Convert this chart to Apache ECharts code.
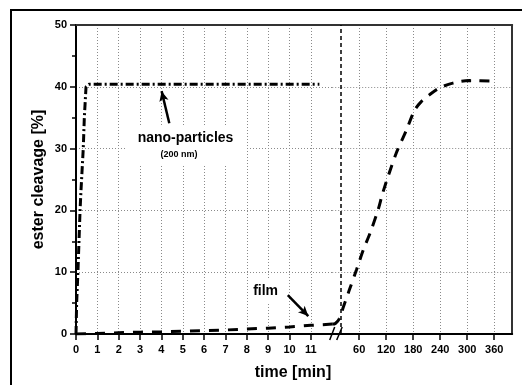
<!DOCTYPE html>
<html>
<head>
<meta charset="utf-8">
<script src="https://cdn.jsdelivr.net/npm/echarts@6/dist/echarts.min.js"></script>
<style>
  html, body { margin: 0; padding: 0; background: #fff; }
  #chart { width: 526px; height: 385px; }
</style>
</head>
<body>
<div id="chart"></div>
<script>
  // nano-particles (left part of the time axis, minutes)
  var nanoTime = [0, 0.03, 0.09, 0.19, 0.23, 0.34, 0.39, 0.47, 0.6, 11.4]
  var nanoCleavage = [0, 5, 10, 20, 23, 30, 35, 40, 40.4, 40.4]

  // film, 0-12 min
  var filmTimeShort = [0, 1, 2, 3, 4, 5, 6, 7, 8, 9, 10, 11, 12]
  var filmCleavageShort = [0, 0.1, 0.2, 0.3, 0.35, 0.45, 0.55, 0.65, 0.8, 0.95, 1.15, 1.4, 1.6]

  // film, long time range (after the axis break)
  var filmTimeLong = [0, 7, 16, 25, 38, 54, 69, 84, 102, 113, 142, 165, 183, 198, 216, 238, 268, 305, 360]
  var filmCleavageLong = [1.6, 1.7, 2.5, 4.4, 7.1, 10.4, 13.6, 16.3, 20.1, 23, 29.2, 33, 36.2, 37.6, 38.7, 39.8, 40.6, 41, 40.9]

  var shortTicks = [0, 1, 2, 3, 4, 5, 6, 7, 8, 9, 10, 11]
  var longTicks = [60, 120, 180, 240, 300, 360]
  var breakLineTime = 19

  function pairs (xs, ys) {
    return xs.map(function (x, i) { return [x, ys[i]] })
  }

  var font = 'Liberation Sans'
  var splitStyle = { color: '#8a8a8a', type: [1, 2], width: 1 }
  var labelStyle = { color: '#000', fontFamily: font, fontWeight: 'bold', fontSize: 11 }

  var myChart = echarts.init(document.getElementById('chart'))

  var option = {
    animation: false,
    backgroundColor: '#fff',
    grid: [
      { left: 76, top: 25, width: 256.2, height: 309, outerBoundsMode: 'none' },
      { left: 332.2, top: 25, width: 180, height: 309, outerBoundsMode: 'none' },
    ],
    xAxis: [
      {
        type: 'value', gridIndex: 0, min: 0, max: 12, interval: 1,
        axisLine: { onZero: false, lineStyle: { color: '#000', width: 2 } },
        axisTick: { length: 6, customValues: shortTicks, lineStyle: { color: '#000', width: 1.5 } },
        axisLabel: Object.assign({ margin: 10, customValues: shortTicks }, labelStyle),
        splitLine: { show: true, lineStyle: splitStyle },
      },
      {
        type: 'value', gridIndex: 1, min: 0, max: 400, interval: 60,
        axisLine: { onZero: false, lineStyle: { color: '#000', width: 2 } },
        axisTick: { length: 6, customValues: longTicks, lineStyle: { color: '#000', width: 1.5 } },
        axisLabel: Object.assign({ margin: 10, customValues: longTicks }, labelStyle),
        splitLine: { show: true, lineStyle: splitStyle },
      },
      {
        type: 'value', gridIndex: 0, position: 'top', min: 0, max: 12,
        axisLine: { onZero: false, lineStyle: { color: '#333', width: 2 } },
        axisTick: { show: false }, axisLabel: { show: false }, splitLine: { show: false },
      },
      {
        type: 'value', gridIndex: 1, position: 'top', min: 0, max: 400,
        axisLine: { onZero: false, lineStyle: { color: '#333', width: 2 } },
        axisTick: { show: false }, axisLabel: { show: false }, splitLine: { show: false },
      },
    ],
    yAxis: [
      {
        type: 'value', gridIndex: 0, min: 0, max: 50, interval: 10,
        name: 'ester cleavage [%]', nameLocation: 'middle', nameGap: 29, nameRotate: 90,
        nameTextStyle: { color: '#000', fontFamily: font, fontWeight: 'bold', fontSize: 16 },
        axisLine: { show: true, onZero: false, lineStyle: { color: '#000', width: 2 } },
        axisTick: { show: true, length: 6, lineStyle: { color: '#000', width: 1.5 } },
        minorTick: { show: true, splitNumber: 2, length: 4, lineStyle: { color: '#000', width: 1.5 } },
        axisLabel: Object.assign({ margin: 9 }, labelStyle),
        splitLine: { show: true, showMinLine: false, showMaxLine: false, lineStyle: splitStyle },
      },
      {
        type: 'value', gridIndex: 1, position: 'right', min: 0, max: 50, interval: 10,
        axisLine: { show: true, onZero: false, lineStyle: { color: '#333', width: 2 } },
        axisTick: { show: false }, axisLabel: { show: false },
        splitLine: { show: true, showMinLine: false, showMaxLine: false, lineStyle: splitStyle },
      },
    ],
    series: [
      {
        name: 'nano-particles', type: 'line', xAxisIndex: 0, yAxisIndex: 0,
        data: pairs(nanoTime, nanoCleavage),
        showSymbol: false, symbol: 'none',
        lineStyle: { color: '#000', width: 3, type: [8, 3, 2, 3] },
        markLine: {
          silent: true, symbol: ['none', 'arrow'], symbolSize: [7, 10],
          label: { show: false },
          lineStyle: { color: '#000', width: 2.5, type: 'solid' },
          data: [
            [{ coord: [4.37, 34.1] }, { coord: [4.01, 39.3] }],
            [{ coord: [9.92, 6.3] }, { coord: [10.88, 2.9] }],
          ],
        },
        markPoint: {
          silent: true, symbol: 'rect', symbolSize: 1,
          itemStyle: { color: 'rgba(0,0,0,0)' },
          label: { show: true, position: 'inside', color: '#000', fontFamily: font, fontWeight: 'bold' },
          data: [
            { coord: [5.13, 31.7], value: 'nano-particles',
              label: { formatter: 'nano-particles', fontSize: 14, backgroundColor: '#fff', padding: [6, 12] } },
            { coord: [4.82, 29.0], value: '(200 nm)',
              label: { formatter: '(200 nm)', fontSize: 9, backgroundColor: '#fff', padding: [4, 30, 6, 30] } },
            { coord: [8.88, 6.96], value: 'film',
              label: { formatter: 'film', fontSize: 14, backgroundColor: '#fff', padding: [5, 5] } },
          ],
        },
      },
      {
        name: 'film', type: 'line', xAxisIndex: 0, yAxisIndex: 0,
        data: pairs(filmTimeShort, filmCleavageShort),
        showSymbol: false, symbol: 'none',
        lineStyle: { color: '#000', width: 3, type: [10, 9] },
      },
      {
        name: 'film (long)', type: 'line', xAxisIndex: 1, yAxisIndex: 1,
        data: pairs(filmTimeLong, filmCleavageLong),
        showSymbol: false, symbol: 'none', smooth: 0.3,
        lineStyle: { color: '#000', width: 3, type: [10, 8] },
        markLine: {
          silent: true, symbol: ['none', 'none'],
          label: { show: false },
          lineStyle: { color: '#000', width: 1.5, type: [4, 3] },
          data: [{ xAxis: breakLineTime }],
        },
      },
    ],
  }
  myChart.setOption(option)

  // axis break marks and frame
  var seam = myChart.convertToPixel({ xAxisIndex: 0, yAxisIndex: 0 }, [12, 0])
  var sx = seam[0], sy = seam[1]
  var breakStyle = { stroke: '#000', lineWidth: 1.5 }
  myChart.setOption({
    graphic: [
      { type: 'polyline', silent: true, shape: { points: [[11, 385], [11, 10], [522, 10]] }, style: { stroke: '#000', lineWidth: 2, fill: null } },
      { type: 'line', silent: true, z: 100, shape: { x1: sx - 2.5, y1: sy + 6, x2: sx + 2.5, y2: sy - 7 }, style: breakStyle },
      { type: 'line', silent: true, z: 100, shape: { x1: sx + 4.5, y1: sy + 6, x2: sx + 10, y2: sy - 7 }, style: breakStyle },
      { type: 'text', silent: true, style: { text: 'time [min]', x: 293, y: 373, align: 'center', verticalAlign: 'middle', fill: '#000', font: 'bold 16px "Liberation Sans"' } },
    ],
  })
</script>
</body>
</html>
